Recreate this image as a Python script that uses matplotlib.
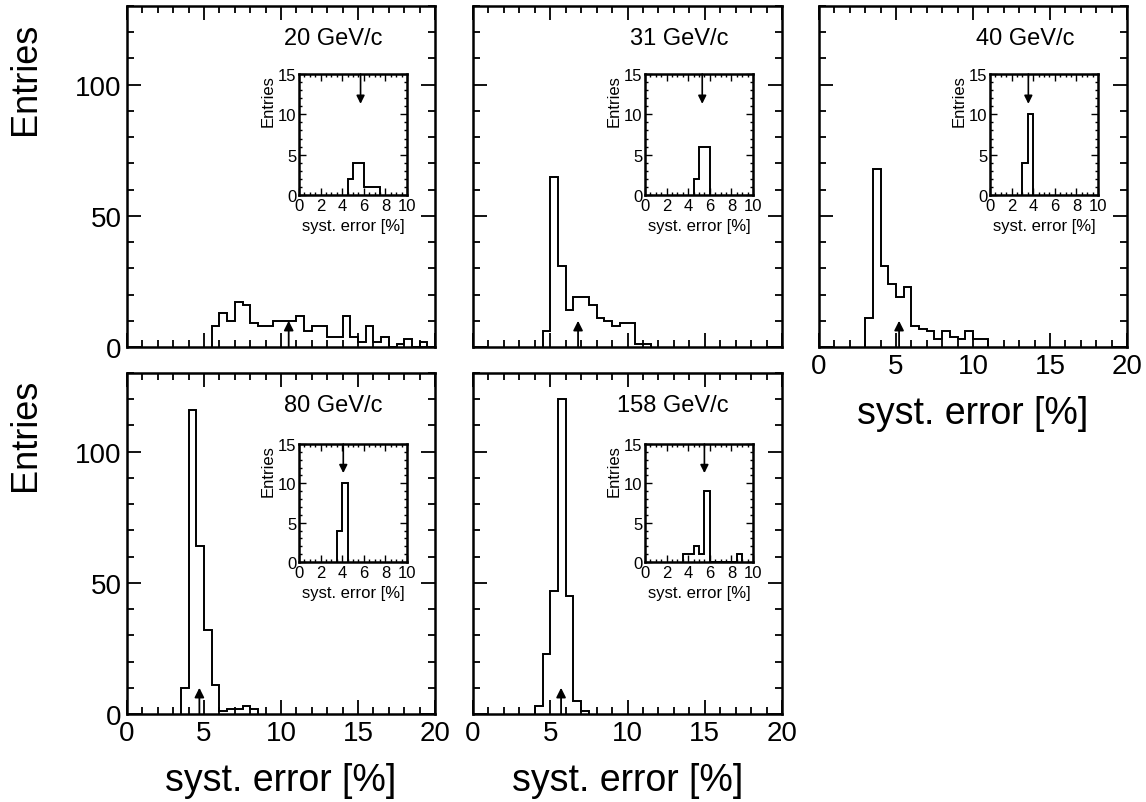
import matplotlib
matplotlib.use("Agg")
import matplotlib.pyplot as plt
import numpy as np

plt.rcParams['font.family'] = ['Liberation Sans', 'DejaVu Sans']

# ---------------- data ----------------
labels = ["20 GeV/c", "31 GeV/c", "40 GeV/c", "80 GeV/c", "158 GeV/c"]

# main histograms (bin width 0.5 %)
edges_20 = [5.5, 6.0, 6.5, 7.0, 7.5, 8.0, 8.5, 9.0, 9.5, 10.0, 10.5, 11.0, 11.5, 12.0,
            12.5, 13.0, 13.5, 14.0, 14.5, 15.0, 15.5, 16.0, 16.5, 17.0, 17.5, 18.0,
            18.5, 19.0, 19.5, 20.0]
counts_20 = [8, 13, 10, 17, 16, 9, 8, 8, 10, 10, 10, 12, 6, 8, 8, 4, 4, 12, 4, 2, 8, 2,
             4, 0, 1, 3, 0, 2, 0]

edges_31 = [4.5, 5.0, 5.5, 6.0, 6.5, 7.0, 7.5, 8.0, 8.5, 9.0, 9.5, 10.0, 10.5, 11.0, 11.5]
counts_31 = [6, 65, 31, 14, 19, 19, 16, 11, 10, 8, 9, 9, 1, 1]

edges_40 = [3.0, 3.5, 4.0, 4.5, 5.0, 5.5, 6.0, 6.5, 7.0, 7.5, 8.0, 8.5, 9.0, 9.5, 10.0,
            10.5, 11.0]
counts_40 = [11, 68, 31, 24, 19, 23, 8, 7, 6, 3, 6, 4, 3, 6, 3, 3]

edges_80 = [3.5, 4.0, 4.5, 5.0, 5.5, 6.0, 6.5, 7.0, 7.5, 8.0, 8.5]
counts_80 = [10, 116, 64, 32, 11, 1, 2, 2, 3, 2]

edges_158 = [4.0, 4.5, 5.0, 5.5, 6.0, 6.5, 7.0, 7.5]
counts_158 = [3, 23, 47, 120, 45, 5, 1]

arrow_main = [10.5, 6.8, 5.2, 4.7, 5.7]

# inset histograms
in_edges_20 = [4.5, 5.0, 5.5, 6.0, 6.5, 7.0, 7.5]
in_counts_20 = [2, 4, 4, 1, 1, 1]
in_edges_31 = [4.5, 5.0, 5.5, 6.0]
in_counts_31 = [2, 6, 6]
in_edges_40 = [3.0, 3.5, 4.0]
in_counts_40 = [4, 10]
in_edges_80 = [3.5, 4.0, 4.5]
in_counts_80 = [4, 10]
in_edges_158 = [3.5, 4.0, 4.5, 5.0, 5.5, 6.0, 6.5, 7.0, 7.5, 8.0, 8.5, 9.0]
in_counts_158 = [1, 1, 2, 1, 9, 0, 0, 0, 0, 0, 1]

arrow_inset = [5.7, 5.3, 3.55, 4.1, 5.5]

main_x_ticks = [0, 5, 10, 15, 20]
main_y_ticks = [0, 50, 100]
inset_x_ticks = [0, 2, 4, 6, 8, 10]
inset_y_ticks = [0, 5, 10, 15]

# ---------------- figure ----------------
W, H = 1146, 803
fig = plt.figure(figsize=(W / 100, H / 100), dpi=100)

def fr(x0, y0, x1, y1):
    return [x0 / W, 1 - y1 / H, (x1 - x0) / W, (y1 - y0) / H]

main_boxes = [fr(127, 7, 435, 348), fr(473, 7, 782, 348), fr(819, 7, 1127, 348),
              fr(127, 374, 435, 715), fr(473, 374, 782, 715)]
inset_boxes = [fr(299, 75, 407, 196), fr(645, 75, 753, 196), fr(990, 75, 1098, 196),
               fr(299, 445, 407, 563), fr(645, 445, 753, 563)]

mains = [(edges_20, counts_20), (edges_31, counts_31), (edges_40, counts_40),
         (edges_80, counts_80), (edges_158, counts_158)]
insets = [(in_edges_20, in_counts_20), (in_edges_31, in_counts_31),
          (in_edges_40, in_counts_40), (in_edges_80, in_counts_80),
          (in_edges_158, in_counts_158)]

show_xlabels = [False, False, True, True, True]
show_ylabels = [True, False, False, True, False]

for i in range(5):
    ax = fig.add_axes(main_boxes[i])
    e, c = mains[i]
    ax.stairs(c, e, baseline=0, fill=False, color='black', lw=1.4)
    ax.set_xlim(0, 20)
    ax.set_ylim(0, 130)
    ax.set_xticks(main_x_ticks)
    ax.set_yticks(main_y_ticks)
    ax.xaxis.set_minor_locator(matplotlib.ticker.MultipleLocator(1))
    ax.yaxis.set_minor_locator(matplotlib.ticker.MultipleLocator(10))
    ax.tick_params(which='both', direction='in', top=True, right=True, width=1.3)
    ax.tick_params(which='major', length=10, labelsize=20, pad=4)
    ax.tick_params(which='minor', length=5)
    if not show_xlabels[i]:
        ax.tick_params(labelbottom=False)
    if not show_ylabels[i]:
        ax.tick_params(labelleft=False)
    for s in ax.spines.values():
        s.set_linewidth(1.8)
    ax.text(0.828, 0.905, labels[i], transform=ax.transAxes, ha='right', va='center',
            fontsize=17)
    ax.annotate('', xy=(arrow_main[i], 10), xytext=(arrow_main[i], 0),
                arrowprops=dict(arrowstyle='-|>', color='black', lw=1.3,
                                mutation_scale=14, shrinkA=0, shrinkB=0))
    if show_xlabels[i]:
        ax.set_xlabel('syst. error [%]', fontsize=27, labelpad=12)

    # inset
    axi = fig.add_axes(inset_boxes[i])
    ie, ic = insets[i]
    axi.stairs(ic, ie, baseline=0, fill=False, color='black', lw=1.4)
    axi.set_xlim(0, 10)
    axi.set_ylim(0, 15)
    axi.set_xticks(inset_x_ticks)
    axi.set_yticks(inset_y_ticks)
    axi.xaxis.set_minor_locator(matplotlib.ticker.MultipleLocator(0.5))
    axi.yaxis.set_minor_locator(matplotlib.ticker.MultipleLocator(1))
    axi.tick_params(which='both', direction='in', top=True, right=True, width=1.0)
    axi.tick_params(which='major', length=5, labelsize=12, pad=2)
    axi.tick_params(which='minor', length=2.5)
    for s in axi.spines.values():
        s.set_linewidth(1.8)
    axi.set_xlabel('syst. error [%]', fontsize=12, labelpad=4)
    axi.set_ylabel('Entries', fontsize=12, labelpad=2)
    axi.yaxis.set_label_coords(-0.22, 1.0)
    axi.yaxis.label.set_ha('right')
    axi.annotate('', xy=(arrow_inset[i], 11.3), xytext=(arrow_inset[i], 15),
                 arrowprops=dict(arrowstyle='-|>', color='black', lw=1.2,
                                 mutation_scale=12, shrinkA=0, shrinkB=0))

fig.text(25 / W, 1 - 79 / H, 'Entries', rotation=90, ha='center', va='center', fontsize=26)
fig.text(25 / W, 1 - 435 / H, 'Entries', rotation=90, ha='center', va='center', fontsize=26)

fig.savefig('out.png', dpi=100)
